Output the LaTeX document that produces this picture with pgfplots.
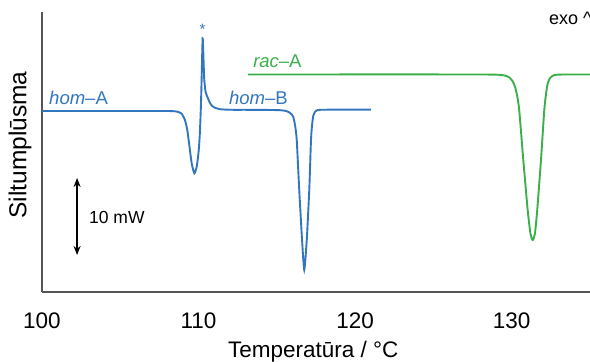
\documentclass[border=0pt]{standalone}
\usepackage{fontspec}
\setmainfont{Liberation Sans}
\usepackage{pgfplots}
\pgfplotsset{compat=1.18}
\usetikzlibrary{arrows.meta}
\definecolor{cblue}{HTML}{3276BF}
\definecolor{cgreen}{HTML}{3AAF4A}
\definecolor{axgray}{HTML}{555555}
\begin{document}
\begin{tikzpicture}
\begin{axis}[
  at={(0,0)}, anchor=south west,
  scale only axis, width=548pt, height=280pt,
  xmin=100, xmax=135, ymin=0, ymax=280,
  axis x line=bottom, axis y line=left,
  axis line style={-, draw=axgray, line width=1.3pt},
  xtick={100,110,120,130}, ytick=\empty,
  major tick length=0pt,
  /pgf/number format/assume math mode=true,
  xticklabel style={anchor=base, yshift=-36pt, font=\fontsize{22.5}{24}\selectfont},
  xlabel={Temperatūra / °C},
  xlabel style={at={(axis description cs:0.495,0)}, anchor=base, yshift=-65pt, font=\fontsize{22.5}{25}\selectfont},
  ylabel={Siltumplūsma},
  ylabel style={at={(axis description cs:0,0.525)}, anchor=south, yshift=7pt, font=\fontsize{24.5}{26}\selectfont},
  clip=false,
]
\addplot[cblue, line width=1.9pt, smooth, tension=0.35] coordinates {
(100,181) (104,181) (106,181) (107.2,181) (107.9,181) (108.3,180.9) (108.55,180.6) (108.75,179.8) (108.92,178.4)
(109.13,172) (109.28,162) (109.39,149) (109.56,128.7) (109.73,118.7) (109.88,125.3) (110.0,140) (110.08,158)
(110.15,186) (110.20,216) (110.26,253.7) (110.31,236) (110.36,213) (110.45,200) (110.56,195.3) (110.7,190)
(110.84,186.5) (111.05,184.2) (111.37,182.8) (111.7,182.4) (112.2,182.2) (113,182.2) (114,182.1) (114.7,182)
(115.2,181.8) (115.5,181.3) (115.73,180.2) (115.92,178) (116.05,175) (116.17,166) (116.27,152) (116.43,102)
(116.61,52) (116.75,22) (116.91,52) (117.07,102) (117.18,152) (117.25,167) (117.33,176.5) (117.45,180.5)
(117.58,181.8) (117.8,182.2) (118.2,182.3) (119,182.3) (120,182.3) (121,182.3)
};
\addplot[cgreen, line width=1.9pt, smooth, tension=0.35] coordinates {
(113.16,217.5) (117,217.5) (121,217.6) (124,217.6) (126.5,217.5) (128,217.5) (128.8,217.4) (129.3,217.1)
(129.6,216.3) (129.85,214.5) (130.05,211) (130.21,205.3) (130.35,196) (130.48,182) (130.74,132) (131.02,82)
(131.2,58) (131.34,52) (131.48,58) (131.63,82) (131.87,132) (132.08,182) (132.2,199) (132.30,208.7)
(132.45,214) (132.66,216.6) (132.9,217.3) (133.3,217.5) (134,217.5) (135,217.5)
};
\node[anchor=base west, text=cblue, font=\fontsize{18.5}{20}\selectfont, inner sep=0pt] at (axis cs:100.45,187) {\textit{hom}–A};
\node[anchor=base west, text=cblue, font=\fontsize{18.5}{20}\selectfont, inner sep=0pt] at (axis cs:111.94,187) {\textit{hom}–B};
\node[anchor=base west, text=cgreen, font=\fontsize{18.5}{20}\selectfont, inner sep=0pt] at (axis cs:113.48,224) {\textit{rac}–A};
\node[text=cblue, font=\fontsize{15}{16}\selectfont, inner sep=0pt] at (axis cs:110.25,263) {*};
\node[anchor=base west, font=\fontsize{18}{20}\selectfont, inner sep=0pt] at (axis cs:132.38,267) {exo \textasciicircum};
\draw[{Stealth[length=9pt,width=7pt]}-{Stealth[length=9pt,width=7pt]}, line width=1.3pt] (axis cs:102.24,114) -- (axis cs:102.24,37);
\node[anchor=west, font=\fontsize{17.5}{20}\selectfont, inner sep=0pt] at (axis cs:103.0,75) {10 mW};
\end{axis}
\pgfresetboundingbox
\useasboundingbox (-42pt,-70pt) rectangle (548pt,292pt);
\end{tikzpicture}
\end{document}
